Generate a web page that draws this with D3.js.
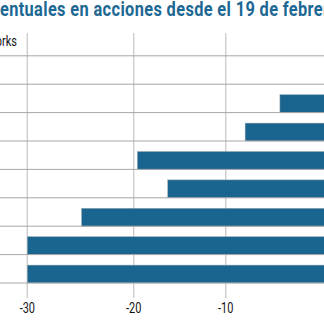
<!DOCTYPE html>
<html>
<head>
<meta charset="utf-8">
<script src="https://cdn.jsdelivr.net/npm/d3@7"></script>
<style>
  html, body { margin: 0; padding: 0; background: #fff; overflow: hidden; }
  svg { display: block; }
</style>
</head>
<body>
<svg id="chart" width="324" height="324"></svg>
<script>
// Percentage change in share price since 19 February
const titleText = "Cambios porcentuales en acciones desde el 19 de febrero";
const categories = [
  "Palo Alto Networks", "Zoom", "Netflix", "Amazon", "Microsoft",
  "Apple", "Alphabet", "Facebook", "Intel"
];
const changes = [3.0, 1.5, -4.7, -8.1, -19.6, -16.3, -24.9, -30, -30];
const tickValues = [-30, -20, -10, 0];

const W = 324, H = 324;
const svg = d3.select("#chart");

const labelFont = "Roboto, 'DejaVu Sans', sans-serif";
const narrow = 0.78; // horizontal squeeze for the condensed label face

// value axis (piecewise to follow the printed grid spacing)
const x = d3.scaleLinear()
  .domain(tickValues)
  .range([27.3, 133.7, 225.7, 328]);

// one band per company
const y = d3.scaleBand()
  .domain(categories)
  .range([27.4, 283])
  .paddingInner(0)
  .paddingOuter(0);

const barOffset = 10.5;
const barHeight = y.bandwidth() - barOffset;

// title: condensed bold face with open tracking, starting off the left edge
const titleSx = 0.84;
const title = svg.append("text")
  .attr("x", 0)
  .attr("y", 0)
  .attr("fill", "#1d6893")
  .style("font-family", "Roboto, 'Open Sans', sans-serif")
  .style("font-weight", 700)
  .style("font-size", "19.5px")
  .text(titleText);
{
  const node = title.node();
  const lead = titleText.indexOf("entuales");
  const last = titleText.indexOf("febrero") + 4;   // second "e" of "febrero"
  const n = last - lead;
  const D = node.getSubStringLength(lead, n);
  const ls = (314 / titleSx - D) / n;
  title.style("letter-spacing", ls + "px");
  const a = node.getSubStringLength(0, lead);
  title.attr("transform", `translate(${-a * titleSx},15.5) scale(${titleSx},1)`);
}

// vertical grid lines with ticks below the last row
const grid = svg.append("g");
grid.selectAll("line")
  .data(tickValues)
  .join("line")
  .attr("x1", d => x(d)).attr("x2", d => x(d))
  .attr("y1", 33).attr("y2", 298)
  .attr("stroke", "#cdcdcd")
  .attr("stroke-width", 1.4);

// bars
svg.append("g")
  .selectAll("rect")
  .data(categories.map((c, i) => ({ c, v: changes[i] })))
  .join("rect")
  .attr("x", d => x(Math.min(0, d.v)))
  .attr("width", d => Math.abs(x(d.v) - x(0)))
  .attr("y", d => y(d.c) + barOffset)
  .attr("height", barHeight)
  .attr("fill", "#19658f")
  .attr("stroke", "#9aa7b0")
  .attr("stroke-width", 0.5);

// row separators
svg.append("g")
  .selectAll("line")
  .data(categories)
  .join("line")
  .attr("x1", 0).attr("x2", W)
  .attr("y1", d => y(d) + y.bandwidth())
  .attr("y2", d => y(d) + y.bandwidth())
  .attr("stroke", "#a6a6a6")
  .attr("stroke-width", 1);

// company names, left aligned so the longest one ends just before the axis
const labels = svg.append("g")
  .selectAll("text")
  .data(categories)
  .join("text")
  .attr("fill", "#111")
  .style("font-family", labelFont)
  .style("font-size", "14px")
  .text(d => d);
{
  const longest = d3.max(labels.nodes(), n => n.getComputedTextLength()) * narrow;
  labels.attr("transform", d =>
    `translate(${17 - longest},${y(d) + y.bandwidth() / 2 + 4.5}) scale(${narrow},1)`);
}

// tick labels
svg.append("g")
  .selectAll("text")
  .data(tickValues)
  .join("text")
  .attr("transform", d => `translate(${x(d)},313) scale(${narrow},1)`)
  .attr("text-anchor", "middle")
  .attr("fill", "#111")
  .style("font-family", labelFont)
  .style("font-size", "14px")
  .text(d => d);
</script>
</body>
</html>
